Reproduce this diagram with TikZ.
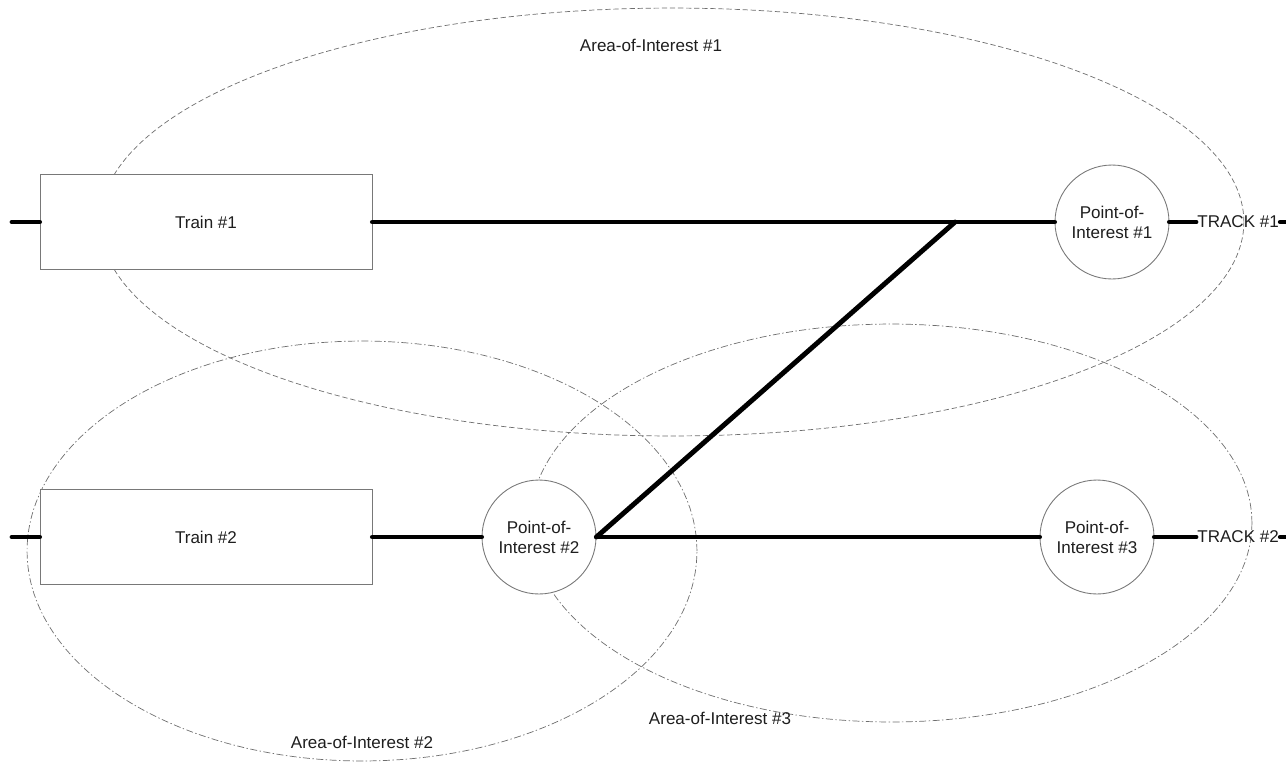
\documentclass[tikz,border=0pt]{standalone}
\usepackage{fontspec}
\setmainfont{Liberation Sans}
\definecolor{framegray}{RGB}{120,120,120}
\definecolor{areagray}{RGB}{110,110,110}
\definecolor{labeltext}{RGB}{30,30,30}
\usetikzlibrary{positioning,shapes.geometric,calc}

\begin{document}
\begin{tikzpicture}[
    x=0.02cm,y=-0.02cm,
    font=\fontsize{9.7}{11.3}\selectfont,
    train/.style={rectangle,draw=framegray,line width=0.5pt,fill=white,minimum width=6.64cm,minimum height=1.9cm,text=labeltext},
    poi/.style={circle,draw=framegray,line width=0.5pt,fill=white,minimum size=2.28cm,inner sep=0pt,align=center,text=labeltext},
    area/.style={ellipse,draw=areagray,line width=0.4pt,inner sep=0pt},
    areadash/.style={area,dash pattern=on 3pt off 1.6pt},
    areadot/.style={area,dash pattern=on 4pt off 1.4pt on 0.8pt off 1.4pt},
    track/.style={line width=2.8pt,line cap=round},
    tracklabel/.style={inner sep=0.6pt,text=labeltext},
    arealabel/.style={text=labeltext}
]
    \useasboundingbox (0,0) rectangle (1286,762);

    % areas of interest
    \node[areadash,minimum width=22.88cm,minimum height=8.56cm] (aoi1) at (672,222) {};
    \node[areadot,minimum width=13.4cm,minimum height=8.4cm] (aoi2) at (362,551) {};
    \node[areadot,minimum width=14.44cm,minimum height=7.96cm] (aoi3) at (891,523) {};
    \node[arealabel] (aoi1lab) at (651,45) {Area-of-Interest \#1};
    \node[arealabel] (aoi2lab) at (362,742) {Area-of-Interest \#2};
    \node[arealabel] (aoi3lab) at (720,718) {Area-of-Interest \#3};

    % trains and points
    \node[train] (train1) at (206,222) {Train \#1};
    \node[train] (train2) at (206,537) {Train \#2};
    \node[poi] (poi1) at (1112,222) {Point-of-\\Interest \#1};
    \node[poi] (poi2) at (539,537) {Point-of-\\Interest \#2};
    \node[poi] (poi3) at (1097,537) {Point-of-\\Interest \#3};
    \node[tracklabel,anchor=west] (track1) at (1196,222) {TRACK \#1};
    \node[tracklabel,anchor=west] (track2) at (1196,537) {TRACK \#2};

    \coordinate (start1) at (12,222);
    \coordinate (start2) at (12,537);
    \coordinate (end1) at (1286,222);
    \coordinate (end2) at (1286,537);
    \coordinate (switch) at (955,222);

    \draw[track] (start1) -- (train1.west);
    \draw[track] (train1.east) -- (poi1.west);
    \draw[track] (poi1.east) -- (track1.west);
    \draw[track] (track1.east) -- (end1);

    \draw[track] (start2) -- (train2.west);
    \draw[track] (train2.east) -- (poi2.west);
    \draw[track] (poi2.east) -- (poi3.west);
    \draw[track] (poi3.east) -- (track2.west);
    \draw[track] (track2.east) -- (end2);

    \draw[track] (poi2.east) -- (switch);
\end{tikzpicture}
\end{document}
